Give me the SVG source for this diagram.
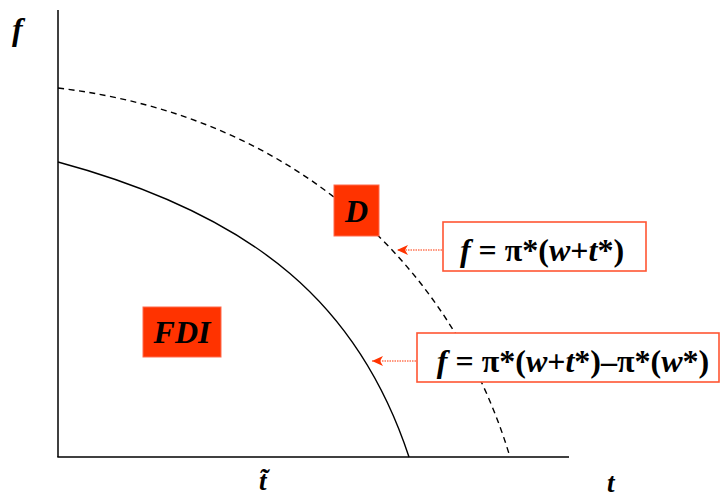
<svg xmlns="http://www.w3.org/2000/svg" width="721" height="498" viewBox="0 0 721 498">
  <style>
    .ax{stroke:#000;stroke-width:1.5;fill:none}
    .crv{stroke:#000;stroke-width:1.4;fill:none}
    .dash{stroke-dasharray:6 4.5}
    .lab{font-family:"Liberation Serif","Times New Roman",serif;font-weight:bold;font-style:italic;fill:#000}
    .eq{font-family:"Liberation Serif","Times New Roman",serif;font-weight:bold;fill:#000;font-size:32px}
    .i{font-style:italic}
    .tag{fill:#FF3300;stroke:#FF6A4D;stroke-width:1}
    .fbox{fill:#fff;stroke:#FF5533;stroke-width:1.6}
    .arr{stroke:#FF3300;stroke-width:1.2;stroke-dasharray:1.5 1;fill:none;marker-end:url(#ah)}
  </style>
  <defs>
    <marker id="ah" markerWidth="12" markerHeight="10" refX="11" refY="5" orient="auto" markerUnits="userSpaceOnUse">
      <path d="M0,0 L11,5 L0,10 L3,5 Z" fill="#FF3300"/>
    </marker>
  </defs>
  <g id="axes">
    <line class="ax" x1="58" y1="10" x2="58" y2="457"/>
    <line class="ax" x1="57.3" y1="457" x2="569" y2="457"/>
    <text class="lab" x="12" y="40" font-size="32">f</text>
    <text class="lab" x="607" y="492" font-size="27">t</text>
    <text class="lab" x="259" y="490" font-size="27">t̃</text>
  </g>
  <g id="curves">
    <path class="crv" d="M58,162 C258,216 359.5,307 409,457"/>
    <path class="crv dash" d="M58,88 C300,117 454,270 510,457"/>
  </g>
  <g id="FDI">
    <rect class="tag" x="143" y="307" width="78" height="50"/>
    <text class="lab" x="182" y="343" font-size="32" text-anchor="middle">FDI</text>
  </g>
  <g id="D">
    <rect class="tag" x="334" y="185" width="45" height="51"/>
    <text class="lab" x="356.5" y="222" font-size="32" text-anchor="middle">D</text>
  </g>
  <g id="eq1">
    <rect class="fbox" x="443" y="222" width="203" height="49"/>
    <text class="eq" x="542" y="261" text-anchor="middle"><tspan class="i">f</tspan> = π*(<tspan class="i">w</tspan>+<tspan class="i">t</tspan>*)</text>
  </g>
  <g id="eq2">
    <rect class="fbox" x="417" y="333" width="302" height="49"/>
    <text class="eq" x="573" y="372" text-anchor="middle"><tspan class="i">f</tspan> = π*(<tspan class="i">w</tspan>+<tspan class="i">t</tspan>*)–π*(<tspan class="i">w</tspan>*)</text>
  </g>
  <g id="connectors">
    <line class="arr" x1="442" y1="250" x2="397" y2="250"/>
    <line class="arr" x1="416" y1="361" x2="372" y2="361"/>
  </g>
</svg>
